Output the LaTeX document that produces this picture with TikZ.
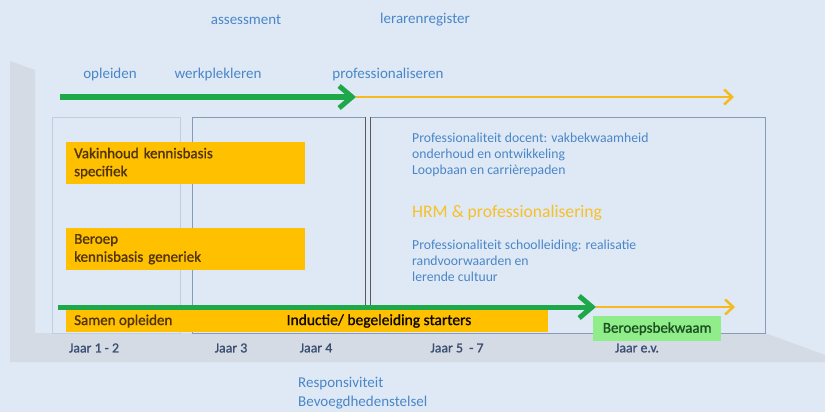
\documentclass[tikz,border=0pt]{standalone}
\usepackage{fontspec}
\setmainfont{Carlito}
\newfontfamily\heavyfont[FakeBold=1.2]{Carlito}
\usetikzlibrary{arrows.meta,positioning}

\begin{document}
\begin{tikzpicture}[x=1pt,y=-1pt,
    bluetext/.style={text=txtblue, font=\fontsize{15}{17}\selectfont, inner sep=0pt},
    yeartext/.style={text=yeargray, font=\heavyfont\fontsize{13.8}{15}\selectfont, inner sep=0pt},
    orangebox/.style={fill=boxorange, text=boxbrown, font=\heavyfont\fontsize{15}{18}\selectfont,
        anchor=north west, inner xsep=8pt, align=left, text width=223pt, minimum height=42pt},
    greenarrow/.style={draw=arrowgreen, line width=5pt, -{Straight Barb[length=13pt, width=22pt]}},
    yellowarrow/.style={draw=lineyellow, line width=2.5pt, -{Straight Barb[length=8pt, width=15pt]}}]
    % Define colors
    \definecolor{bgblue}{RGB}{222,233,245}
    \definecolor{wallgray}{RGB}{212,219,229}
    \definecolor{txtblue}{RGB}{74,134,200}
    \definecolor{yeargray}{RGB}{60,78,112}
    \definecolor{boxorange}{RGB}{255,192,0}
    \definecolor{boxbrown}{RGB}{80,52,10}
    \definecolor{arrowgreen}{RGB}{30,168,74}
    \definecolor{lineyellow}{RGB}{245,186,30}
    \definecolor{framegray}{RGB}{135,155,185}
    \definecolor{lightframe}{RGB}{190,207,229}
    \definecolor{okgreen}{RGB}{144,238,138}
    \definecolor{okgreentext}{RGB}{28,80,32}
    \definecolor{hrmyellow}{RGB}{247,192,40}

    % Background and wall/floor
    \fill[bgblue] (0,0) rectangle (825,412);
    \fill[wallgray] (10,61) -- (35,70) -- (35,333) -- (765,333) -- (825,355)
        -- (825,362) -- (10,362) -- cycle;

    % Frames
    \draw[lightframe, fill=bgblue] (52,117) rectangle (180,333);
    \draw[framegray, fill=bgblue] (192,117) rectangle (765,333);
    \draw[gray!70!black, double=bgblue, double distance=4pt, line width=1pt] (368,117) -- (368,305);

    % Top labels
    \node[bluetext] (assess) at (246,20) {assessment};
    \node[bluetext] (register) at (425,20) {lerarenregister};
    \node[bluetext] (opleiden) at (110,75) {opleiden};
    \node[bluetext] (werkplek) at (218,75) {werkplekleren};
    \node[bluetext] (profes) at (388,75) {professionaliseren};

    % Top arrow
    \coordinate (topstart) at (60,97);
    \coordinate (topmid) at (356,97);
    \coordinate (topend) at (734,97);
    \draw[yellowarrow] (topmid) -- (topend);
    \draw[greenarrow] (topstart) -- (topmid);

    % Knowledge boxes
    \node[orangebox] (vakinhoud) at (66,142) {Vakinhoud kennisbasis\\specifiek};
    \node[orangebox] (beroep) at (66,228) {Beroep\\kennisbasis generiek};

    % Right hand texts
    \node[bluetext, anchor=west, align=left, font=\fontsize{13.7}{16}\selectfont] (docent) at (412,155)
        {Professionaliteit docent: vakbekwaamheid\\onderhoud en ontwikkeling\\Loopbaan en carrièrepaden};
    \node[bluetext, anchor=west, text=hrmyellow, font=\fontsize{17.6}{20}\selectfont] (hrm) at (412,213)
        {HRM \& professionalisering};
    \node[bluetext, anchor=west, align=left, font=\fontsize{13.7}{16}\selectfont] (school) at (412,261)
        {Professionaliteit schoolleiding: realisatie\\randvoorwaarden en\\lerende cultuur};

    % Bottom bar
    \fill[boxorange] (66,310) rectangle (548,332);
    \node[anchor=west, inner sep=0pt, text=boxbrown, font=\heavyfont\fontsize{15}{16}\selectfont] (samen) at (74,321) {Samen opleiden};
    \node[inner sep=0pt, text=black!80!boxbrown, font=\heavyfont\fontsize{15.5}{16}\selectfont] (inductie) at (379,321) {Inductie/ begeleiding starters};

    % Bottom arrow
    \coordinate (botstart) at (58,307);
    \coordinate (botmid) at (596,307);
    \coordinate (botend) at (735,307);
    \draw[yellowarrow] (botmid) -- (botend);
    \draw[greenarrow] (botstart) -- (botmid);

    % Beroepsbekwaam
    \node[fill=okgreen, text=okgreentext, font=\heavyfont\fontsize{15}{16}\selectfont, anchor=north west,
        minimum width=128pt, minimum height=25pt, inner sep=0pt] (bekwaam) at (593,316) {Beroepsbekwaam};

    % Years
    \node[yeartext] (jaar12) at (94,348) {Jaar 1 - 2};
    \node[yeartext] (jaar3) at (231,348) {Jaar 3};
    \node[yeartext] (jaar4) at (316,348) {Jaar 4};
    \node[yeartext] (jaar57) at (457,348) {Jaar 5 \ - 7};
    \node[yeartext] (jaarev) at (637,348) {Jaar e.v.};

    % Bottom labels
    \node[bluetext, anchor=west] (respons) at (298,384) {Responsiviteit};
    \node[bluetext, anchor=west] (bevoegd) at (298,403) {Bevoegdhedenstelsel};
\end{tikzpicture}
\end{document}
